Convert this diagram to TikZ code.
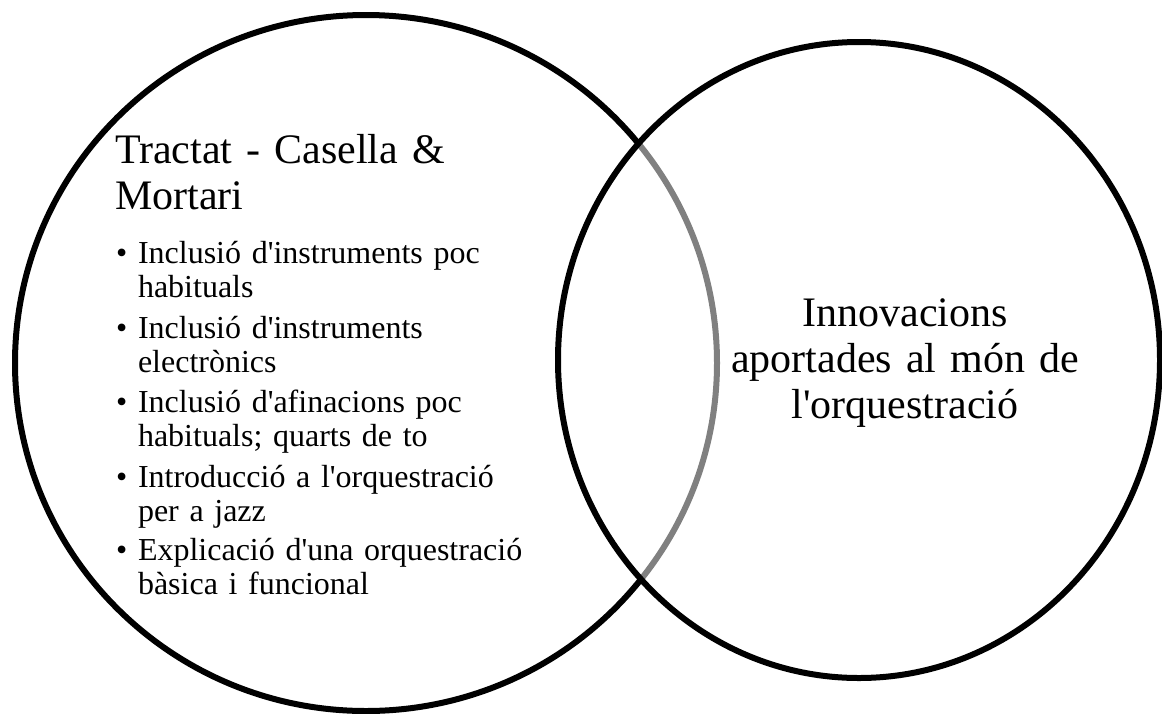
\documentclass[tikz,border=0pt]{standalone}
\usepackage{fontspec}
\setmainfont{Liberation Serif}[Ligatures=TeXOff]
\hyphenpenalty=10000
\exhyphenpenalty=10000
\begin{document}
\begin{tikzpicture}[x=1pt,y=-1pt,
  ring/.style={line width=6pt,draw=black},
  bigtxt/.style={font=\fontsize{42}{46}\selectfont,inner sep=0pt,outer sep=0pt},
  itemtxt/.style={font=\fontsize{32}{34}\selectfont,inner sep=0pt,outer sep=0pt,text width=450pt,align=left,anchor=base west},
  bul/.style={font=\fontsize{32}{34}\selectfont,inner sep=0pt,outer sep=0pt,anchor=base west}]
\useasboundingbox (0,0) rectangle (1162,713);
\clip (0,0) rectangle (1162,713);
\fill[white] (0,0) rectangle (1162,713);
% circles
\draw[ring] (366,363) ellipse [x radius=351, y radius=348];
\draw[ring,fill=white,fill opacity=0.5] (859,360) ellipse [x radius=301, y radius=318];
% left text
\node[bigtxt,text width=450pt,align=left,anchor=base west] (title) at (115,163) {Tractat - Casella \&\\Mortari};
\node[bul] (b1) at (116,263) {•};
\node[itemtxt] (i1) at (138,263) {Inclusió d'instruments poc\\habituals};
\node[bul] (b2) at (116,338) {•};
\node[itemtxt] (i2) at (138,338) {Inclusió d'instruments\\electrònics};
\node[bul] (b3) at (116,412) {•};
\node[itemtxt] (i3) at (138,412) {Inclusió d'afinacions poc\\habituals; quarts de to};
\node[bul] (b4) at (116,487) {•};
\node[itemtxt] (i4) at (138,487) {Introducció a l'orquestració\\per a jazz};
\node[bul] (b5) at (116,560) {•};
\node[itemtxt] (i5) at (138,560) {Explicació d'una orquestració\\bàsica i funcional};
% right text
\node[bigtxt,text width=400pt,align=center,anchor=base] (innov) at (905,326) {Innovacions\\aportades al món de\\l'orquestració};
\end{tikzpicture}
\end{document}
